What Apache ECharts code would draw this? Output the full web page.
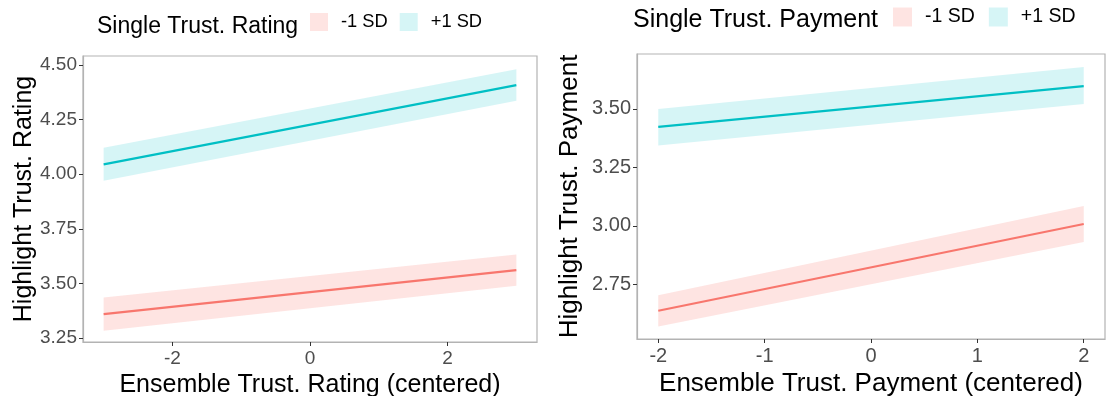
<!DOCTYPE html>
<html>
<head>
<meta charset="utf-8">
<script src="https://cdn.jsdelivr.net/npm/echarts@6/dist/echarts.min.js"></script>
<style>
  html, body { margin: 0; padding: 0; background: #fff; }
  #main { width: 1109px; height: 396px; }
</style>
</head>
<body>
<div id="main"></div>
<script>
// left panel: rating
var ratingX = [-3, 3];
var ratingLowMid = [3.36, 3.561];
var ratingLowLo = [3.284, 3.489];
var ratingLowHi = [3.436, 3.633];
var ratingHighMid = [4.045, 4.408];
var ratingHighLo = [3.97, 4.336];
var ratingHighHi = [4.121, 4.48];
var ratingXTicks = [-2, 0, 2];
var ratingYTicks = [3.25, 3.5, 3.75, 4.0, 4.25, 4.5];

// right panel: payment
var payX = [-2, 2];
var payLowMid = [2.637, 3.008];
var payLowLo = [2.569, 2.931];
var payLowHi = [2.703, 3.085];
var payHighMid = [3.423, 3.598];
var payHighLo = [3.344, 3.521];
var payHighHi = [3.5, 3.679];
var payXTicks = [-2, -1, 0, 1, 2];
var payYTicks = [2.75, 3.0, 3.25, 3.5];

var RED = '#F8766D', CYAN = '#00BFC4';
var RED_FILL = 'rgba(248,118,109,0.2)', CYAN_FILL = 'rgba(0,191,196,0.16)';
var FONT = '"Liberation Sans", Arial, sans-serif';

function pairs(xs, ys) {
  return xs.map(function (x, i) { return [x, ys[i]]; });
}

// band polygon drawn through the axis scales
function band(name, idx, xs, lo, hi, fill) {
  var rows = xs.map(function (x, i) { return [x, lo[i], hi[i]]; });
  return {
    name: name, type: 'custom', xAxisIndex: idx, yAxisIndex: idx,
    data: rows, silent: true, z: 1,
    itemStyle: { color: fill },
    renderItem: function (params, api) {
      if (params.dataIndex !== 0) return;
      var top = [], bot = [];
      for (var i = 0; i < rows.length; i++) {
        top.push(api.coord([rows[i][0], rows[i][2]]));
        bot.unshift(api.coord([rows[i][0], rows[i][1]]));
      }
      return { type: 'polygon', shape: { points: top.concat(bot) }, style: { fill: fill } };
    }
  };
}

function line(name, idx, xs, ys, color) {
  return {
    name: name, type: 'line', xAxisIndex: idx, yAxisIndex: idx,
    data: pairs(xs, ys), showSymbol: false, silent: true, z: 3,
    lineStyle: { color: color, width: 2.2 }, itemStyle: { color: color }
  };
}

function xAxisOf(idx, min, max, ticks, title, nameSize, labelSize, gap) {
  return {
    type: 'value', gridIndex: idx, min: min, max: max,
    name: title, nameLocation: 'middle', nameGap: gap,
    nameTextStyle: { fontSize: nameSize, color: '#000', fontFamily: FONT },
    splitLine: { show: false },
    axisLine: { show: true, onZero: false, lineStyle: { color: '#b3b3b3', width: 1.2 } },
    axisTick: { show: true, length: 4, customValues: ticks, lineStyle: { color: '#333' } },
    axisLabel: { customValues: ticks, fontSize: labelSize, color: '#4d4d4d', margin: 7, fontFamily: FONT }
  };
}

function yAxisOf(idx, min, max, ticks, title, gap, nameSize, labelSize) {
  return {
    type: 'value', gridIndex: idx, min: min, max: max,
    name: title, nameLocation: 'middle', nameGap: gap,
    nameTextStyle: { fontSize: nameSize, color: '#000', fontFamily: FONT },
    splitLine: { show: false },
    axisLine: { show: true, onZero: false, lineStyle: { color: '#b3b3b3', width: 1.2 } },
    axisTick: { show: true, length: 4, customValues: ticks, lineStyle: { color: '#333' } },
    axisLabel: {
      customValues: ticks, fontSize: labelSize, color: '#4d4d4d', margin: 6, fontFamily: FONT,
      formatter: function (v) { return v.toFixed(2); }
    }
  };
}

function legendOf(left, top, gap, size, keySize) {
  return {
    left: left, top: top, padding: 0, icon: 'rect', itemWidth: keySize, itemHeight: keySize, itemGap: gap,
    selectedMode: false,
    textStyle: { fontSize: size, color: '#000', fontFamily: FONT, padding: [0, 0, 0, 8] },
    data: [
      { name: '-1 SD', itemStyle: { color: RED_FILL } },
      { name: '+1 SD', itemStyle: { color: CYAN_FILL } }
    ]
  };
}

var chart = echarts.init(document.getElementById('main'));
chart.setOption({
  animation: false,
  backgroundColor: '#fff',
  title: [
    { text: 'Single Trust. Rating', left: 92, top: 10,
      textStyle: { fontSize: 23, fontWeight: 'normal', color: '#000', fontFamily: FONT } },
    { text: 'Single Trust. Payment', left: 628, top: 3,
      textStyle: { fontSize: 25, fontWeight: 'normal', color: '#000', fontFamily: FONT } }
  ],
  legend: [legendOf(310, 13, 12, 18.3, 18), legendOf(893, 7, 14, 19.5, 19)],
  grid: [
    { left: 83, top: 56, width: 454, height: 286, show: true, borderColor: '#b3b3b3', borderWidth: 1.2,
      outerBoundsMode: 'none' },
    { left: 637, top: 54, width: 468, height: 285, show: true, borderColor: '#b3b3b3', borderWidth: 1.2,
      outerBoundsMode: 'none' }
  ],
  xAxis: [
    xAxisOf(0, -3.3, 3.3, ratingXTicks, 'Ensemble Trust. Rating (centered)', 25, 19, 26),
    xAxisOf(1, -2.2, 2.2, payXTicks, 'Ensemble Trust. Payment (centered)', 26, 20, 27)
  ],
  yAxis: [
    yAxisOf(0, 3.232, 4.541, ratingYTicks, 'Highlight Trust. Rating', 43, 25, 19),
    yAxisOf(1, 2.516, 3.735, payYTicks, 'Highlight Trust. Payment', 54, 26, 20)
  ],
  series: [
    band('-1 SD', 0, ratingX, ratingLowLo, ratingLowHi, RED_FILL),
    band('+1 SD', 0, ratingX, ratingHighLo, ratingHighHi, CYAN_FILL),
    line('-1 SD', 0, ratingX, ratingLowMid, RED),
    line('+1 SD', 0, ratingX, ratingHighMid, CYAN),
    band('-1 SD', 1, payX, payLowLo, payLowHi, RED_FILL),
    band('+1 SD', 1, payX, payHighLo, payHighHi, CYAN_FILL),
    line('-1 SD', 1, payX, payLowMid, RED),
    line('+1 SD', 1, payX, payHighMid, CYAN)
  ]
});
</script>
</body>
</html>
